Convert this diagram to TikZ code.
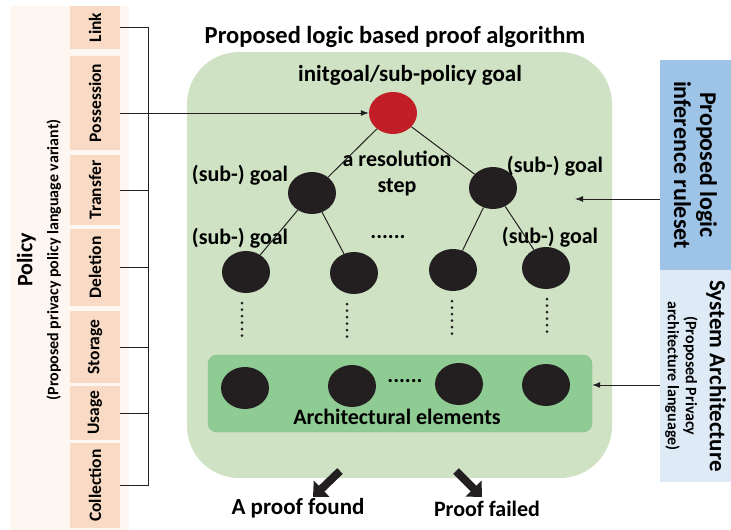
\documentclass[tikz,border=0pt]{standalone}
\usepackage{fontspec}
\setmainfont{Carlito}
\usetikzlibrary{shapes.geometric,arrows.meta}
\definecolor{policybg}{HTML}{FEF6F0}
\definecolor{peach}{HTML}{F9DBC5}
\definecolor{algobg}{HTML}{CFE3C4}
\definecolor{archgreen}{HTML}{8FCC93}
\definecolor{ruleblue}{HTML}{9DC3E6}
\definecolor{syslight}{HTML}{DEEBF7}
\definecolor{goalred}{HTML}{C21E28}
\definecolor{nodeblack}{HTML}{231F20}
\begin{document}
\begin{tikzpicture}[x=1pt,y=-1pt,font=\bfseries\fontsize{22}{26}\selectfont,
	item/.style={fill=peach,rotate=90,minimum height=50pt,inner sep=0pt,font=\bfseries\fontsize{17.5}{20}\selectfont},
	big/.style={font=\bfseries\fontsize{24.5}{28}\selectfont},
	goalnode/.style={ellipse,fill=nodeblack,minimum width=48pt,minimum height=42pt,inner sep=0pt},
	tree/.style={line width=1pt,draw=nodeblack},
	arrow/.style={line width=1pt,draw=nodeblack,-{Latex[length=8pt,width=6pt]}},
	dots/.style={line width=3pt,line cap=round,dash pattern=on 0pt off 6.5pt,draw=nodeblack},
	bigarrow/.style={line width=8pt,draw=nodeblack,-{Triangle[length=12pt,width=22pt]}}]
	\useasboundingbox (0,0) rectangle (731,530);
	\fill [policybg] (10,6) rectangle (129,530);
	\node [rotate=90,align=center] (policy) at (39,260) {Policy\\\fontsize{16}{22}\selectfont(Proposed privacy policy language variant)};
	\foreach \name/\label/\top/\bot in {link/Link/6/49,possession/Possession/56/150,transfer/Transfer/155/225,deletion/Deletion/229/306,storage/Storage/311/383,usage/Usage/386/440,collection/Collection/443/528}
		\node [item,minimum width=\bot-\top] (\name) at (95,{(\top+\bot)/2}) {\label};
	\node [fill=algobg,rounded corners=52pt,minimum width=425pt,minimum height=426pt] (algo) at (399.5,265) {};
	\node [big] (title) at (395,37) {Proposed logic based proof algorithm};
	\node [font=\bfseries\fontsize{23}{26}\selectfont] (init) at (410,75) {initgoal/sub-policy goal};
	\node [goalnode,fill=goalred] (goal) at (393,113) {};
	\node [goalnode] (sub1) at (312,193) {};
	\node [goalnode] (sub2) at (493,188) {};
	\foreach \n/\x/\y in {1/246/272,2/354/273,3/453/270,4/546/268}
		\node [goalnode] (leaf\n) at (\x,\y) {};
	\node [align=center] (step) at (397,173) {a resolution\\step};
	\node (sub1 label) at (240,175) {(sub-) goal};
	\node (sub2 label) at (555,166) {(sub-) goal};
	\node (leaf1 label) at (240,238) {(sub-) goal};
	\node (leaf4 label) at (550,237) {(sub-) goal};
	\node (leaf dots) at (388,237) {......};
	\draw [tree] (goal) -- (sub1);
	\draw [tree] (goal) -- (sub2);
	\draw [tree] (sub1) -- (leaf1);
	\draw [tree] (sub1) -- (leaf2);
	\draw [tree] (sub2) -- (leaf3);
	\draw [tree] (sub2) -- (leaf4);
	\foreach \n/\dx in {1/-4,2/-7,3/-1,4/1}
		\draw [dots] ([xshift=\dx]leaf\n.south) ++(0,10) -- ++(0,36);
	\node [fill=archgreen,draw=archgreen!90!black,rounded corners=9pt,minimum width=384pt,minimum height=77pt] (arch) at (400,393.5) {};
	\foreach \n/\x/\y in {1/245/388,2/352/386,3/459/384,4/546/385}
		\node [goalnode] (el\n) at (\x,\y) {};
	\node (arch dots) at (405,381) {......};
	\node (arch label) at (397,417) {Architectural elements};
	\node [fill=ruleblue,rotate=-90,minimum width=210pt,minimum height=71pt,inner sep=0pt,align=center,font=\bfseries\fontsize{24}{26}\selectfont] (rules) at (695.5,165) {Proposed logic\\inference ruleset};
	\node [fill=syslight,rotate=-90,minimum width=212pt,minimum height=71pt,inner sep=0pt,align=center,font=\bfseries\fontsize{16}{18}\selectfont] (system) at (695.5,376) {\fontsize{23}{18}\selectfont System Architecture\\[6pt](Proposed Privacy\\architecture language)};
	\draw [tree] (link.south) -| (148,0 |- collection.south) -- (collection.south);
	\coordinate (bracket) at (148,0);
	\foreach \name in {transfer,deletion,storage,usage}
		\draw [tree] (\name.south) -- (\name.south -| bracket);
	\draw [arrow] (possession.south |- goal) -- (goal);
	\coordinate (rule tip) at (575,199);
	\draw [arrow] (rule tip -| rules.south) -- (rule tip);
	\draw [arrow] (system.south |- el4) -- (arch.east |- el4);
	\node [font=\bfseries\fontsize{23}{26}\selectfont] (found) at (298,508) {A proof found};
	\node (failed) at (487,509) {Proof failed};
	\coordinate (found start) at (340,471);
	\coordinate (found end) at (313,497);
	\coordinate (failed start) at (456,471);
	\coordinate (failed end) at (482,497);
	\draw [bigarrow] (found start) -- (found end);
	\draw [bigarrow] (failed start) -- (failed end);
\end{tikzpicture}
\end{document}
